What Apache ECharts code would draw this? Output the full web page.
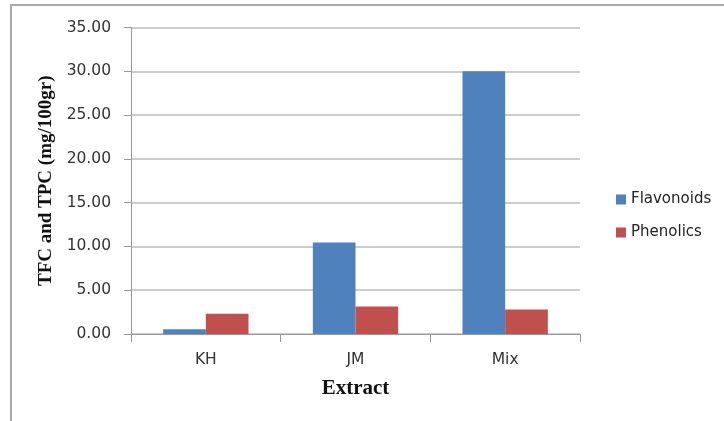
<!DOCTYPE html>
<html>
<head>
<meta charset="utf-8">
<style>
  html, body { margin: 0; padding: 0; background: #fff; }
  #chart { width: 724px; height: 421px; }
</style>
<script src="https://cdn.jsdelivr.net/npm/echarts@6/dist/echarts.min.js"></script>
</head>
<body>
<div id="chart"></div>
<script>
// Extracts on the category axis
const extracts = ['KH', 'JM', 'Mix'];
// Total flavonoid content (TFC) per extract
const flavonoids = [0.55, 10.45, 30.0];
// Total phenolic content (TPC) per extract
const phenolics = [2.3, 3.13, 2.8];
// Value axis range and step
const yMin = 0;
const yMax = 35;
const yStep = 5;

const chart = echarts.init(document.getElementById('chart'), null, { renderer: 'canvas' });

const tickFont = { fontFamily: 'DejaVu Sans', fontSize: 15.5, color: '#333' };
const nameFont = { fontFamily: 'Liberation Serif', fontWeight: 'bold', color: '#111' };

chart.setOption({
  animation: false,
  backgroundColor: '#fff',
  graphic: [{
    type: 'rect',
    shape: { x: 11, y: 5, width: 800, height: 500 },
    style: { fill: 'none', stroke: '#aaa', lineWidth: 2 },
    silent: true
  }],
  grid: { left: 131, right: 144, top: 27.5, bottom: 87, containLabel: false },
  legend: {
    orient: 'vertical',
    left: 611,
    top: 187,
    itemWidth: 10,
    itemHeight: 10,
    itemGap: 18,
    icon: 'rect',
    textStyle: { fontFamily: 'DejaVu Sans', fontSize: 15, color: '#222' },
    data: ['Flavonoids', 'Phenolics']
  },
  xAxis: {
    type: 'category',
    data: extracts,
    name: 'Extract',
    nameLocation: 'middle',
    nameGap: 44,
    nameTextStyle: Object.assign({ fontSize: 21 }, nameFont),
    axisLine: { lineStyle: { color: '#999', width: 1 } },
    axisTick: { show: true, length: 8, alignWithLabel: false, lineStyle: { color: '#999' } },
    axisLabel: Object.assign({ margin: 18 }, tickFont)
  },
  yAxis: {
    type: 'value',
    min: yMin,
    max: yMax,
    interval: yStep,
    name: 'TFC and TPC (mg/100gr)',
    nameLocation: 'middle',
    nameGap: 72,
    nameTextStyle: Object.assign({ fontSize: 19 }, nameFont),
    axisLine: { show: true, lineStyle: { color: '#999', width: 1 } },
    axisTick: { show: true, length: 7, lineStyle: { color: '#999' } },
    axisLabel: Object.assign({ margin: 20, formatter: v => v.toFixed(2) }, tickFont),
    splitLine: { show: true, lineStyle: { color: '#bdbdbd', width: 1.5 } }
  },
  series: [
    {
      name: 'Flavonoids',
      type: 'bar',
      data: flavonoids,
      barGap: '0%',
      barCategoryGap: '43%',
      itemStyle: { color: '#4F81BD' }
    },
    {
      name: 'Phenolics',
      type: 'bar',
      data: phenolics,
      barGap: '0%',
      barCategoryGap: '43%',
      itemStyle: { color: '#C0504D' }
    }
  ]
});
</script>
</body>
</html>
